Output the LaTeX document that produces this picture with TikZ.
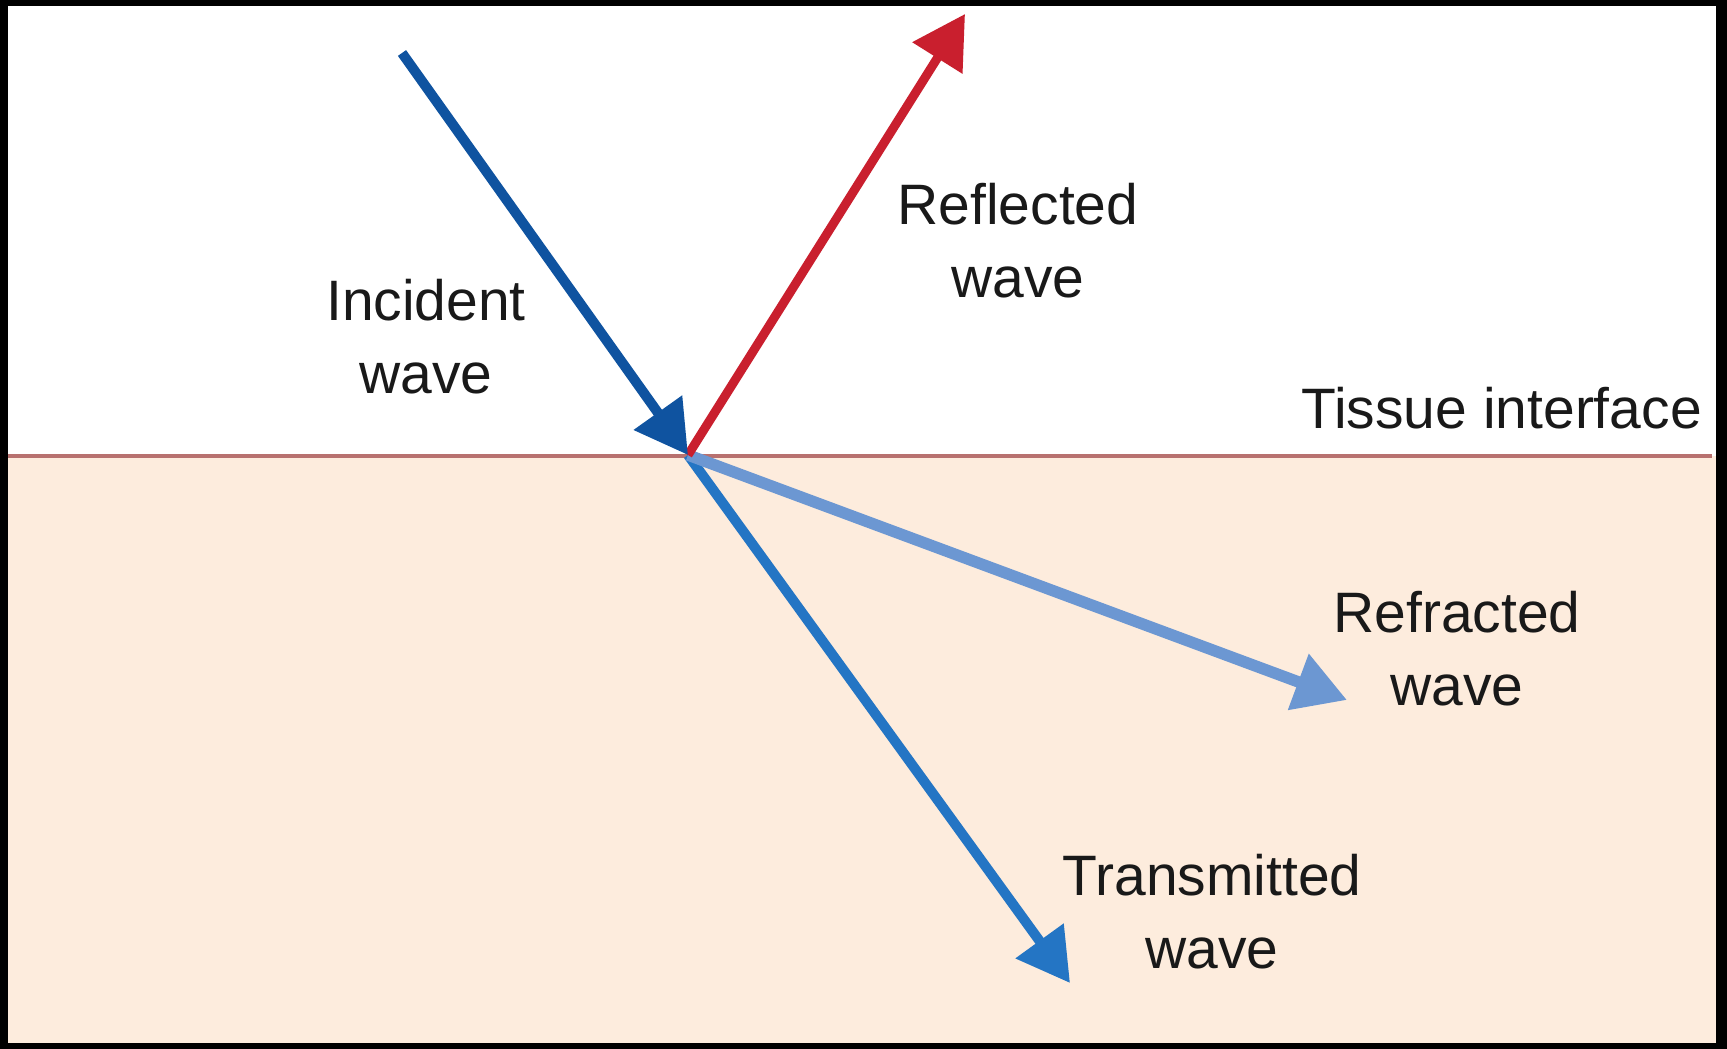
\documentclass[tikz,border=0pt]{standalone}
\usepackage{fontspec}
\setmainfont{Liberation Sans}
\usetikzlibrary{arrows.meta}
\definecolor{frameblack}{HTML}{000000}
\definecolor{tissue}{HTML}{FDECDD}
\definecolor{ifline}{HTML}{B8716F}
\definecolor{incblue}{HTML}{0F53A0}
\definecolor{reflred}{HTML}{C91F2E}
\definecolor{refrblue}{HTML}{6C97D2}
\definecolor{transblue}{HTML}{2475C4}
\tikzset{
  wavearrow/.style={-{Triangle[length=52pt,width=57pt]}},
  lbl/.style={font=\fontsize{57}{73}\selectfont, align=center, inner sep=0pt, anchor=base, text=black!90},
}
\begin{document}
\begin{tikzpicture}[x=1pt,y=-1pt]
  \useasboundingbox (0,0) rectangle (1727,1049);
  \fill[frameblack] (0,0) rectangle (1727,1049);
  \fill[white] (8,6) rectangle (1716,1043);
  \fill[tissue] (8,456) rectangle (1716,1043);
  \coordinate (L) at (8,456);
  \coordinate (R) at (1712,456);
  \draw[ifline, line width=3.5pt] (L) -- (R);

  \coordinate (O) at (688,455);
  \coordinate (inc) at (402,53);
  \coordinate (refl) at (965,14);
  \coordinate (refr) at (1347,700);
  \coordinate (trans) at (1070,983);

  \draw[wavearrow, transblue, line width=10pt] (O) -- (trans);
  \draw[wavearrow, refrblue, line width=11.5pt] (O) -- (refr);
  \draw[wavearrow, reflred, line width=9pt] (O) -- (refl);
  \draw[wavearrow, incblue, line width=10pt] (inc) -- (O);

  % anchor=base of a multi-line node is the baseline of its last line
  \node[lbl] (tInc) at (426,393) {Incident\\wave};
  \node[lbl] (tRefl) at (1018,297) {Reflected\\wave};
  \node[lbl, anchor=base east] (tIf) at (1702,428) {Tissue interface};
  \node[lbl] (tRefr) at (1457,705) {Refracted\\wave};
  \node[lbl] (tTrans) at (1212,968) {Transmitted\\wave};
\end{tikzpicture}
\end{document}
